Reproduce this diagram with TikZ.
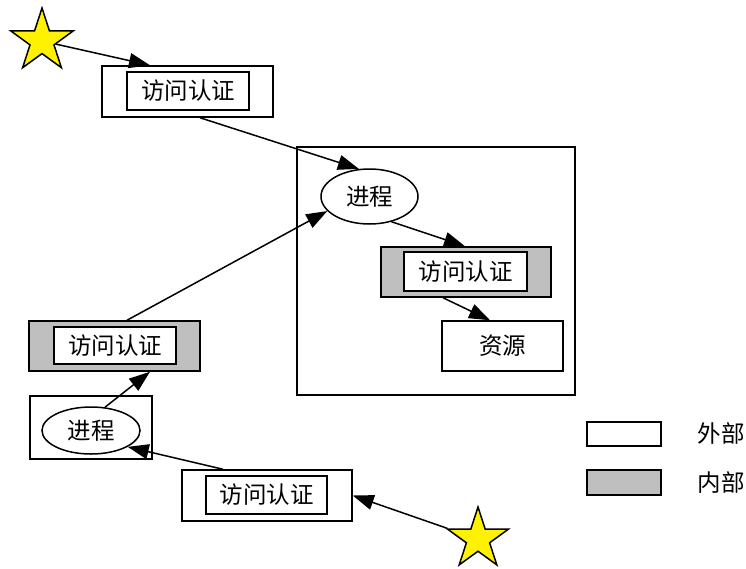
\documentclass[tikz,border=0pt]{standalone}
\usepackage{fontspec}
\setmainfont{Noto Sans CJK SC}
\usetikzlibrary{shapes.geometric,arrows.meta,calc}
\begin{document}
\begin{tikzpicture}[x=1pt,y=-1pt,line width=1.5pt,
  obox/.style 2 args={draw, rectangle, inner sep=0pt, minimum width=#1, minimum height=#2, fill=white},
  gfill/.style={fill=gray!50},
  ibox/.style 2 args={draw, rectangle, fill=white, inner sep=0pt, minimum width=#1, minimum height=#2},
  proc/.style 2 args={draw, ellipse, inner sep=0pt, minimum width=#1, minimum height=#2, fill=white},
  starnode/.style={star, star points=5, star point ratio=2.618, minimum size=66pt, inner sep=0pt, draw, fill=yellow},
  arr/.style={-{Triangle[length=21pt,width=15pt]}},
  every node/.style={font=\fontsize{23.5}{23.5}\selectfont}
]
\useasboundingbox (0,0) rectangle (746,568);
% big container
\node[obox={278}{248}] (big) at (436,271) {};
% top star and box
\node[starnode] (s1) at (42,41) {};
\node[obox={171}{51}] (b1) at (187.5,91.5) {};
\node[ibox={122}{38}] (b1i) at (188,91) {访问认证};
% inside big box
\node[proc={97}{55}] (p1) at (369.5,196.5) {进程};
\node[obox={170}{50}, gfill] (g1) at (466,272) {};
\node[ibox={123}{39}] (g1i) at (465.5,271.5) {访问认证};
\node[obox={121}{50}] (r) at (502.5,346) {资源};
% left side
\node[obox={171}{50}, gfill] (g2) at (114.5,346) {};
\node[ibox={122}{37}] (g2i) at (115,345.5) {访问认证};
\node[obox={122}{63}] (p2box) at (91,427.5) {};
\node[proc={98}{47}] (p2) at (91,430.5) {进程};
% bottom box and star
\node[obox={170}{51}] (b3) at (267,495.5) {};
\node[ibox={121}{38}] (b3i) at (266.5,495) {访问认证};
\node[starnode, minimum size=64pt] (s2) at (478,539) {};
% legend
\node[obox={74}{24}] (l1) at (624,434) {};
\node[obox={74}{25}, gfill] (l2) at (624,482.5) {};
\node (t1) at (721,434) {外部};
\node (t2) at (721,482.5) {内部};
% connectors
\draw[arr] (s1) -- ([xshift=-37.5pt]b1.north);
\draw[arr] ([xshift=12.5pt]b1.south) -- (p1.111);
\draw[arr] (p1.-49) -- ([xshift=-1pt]g1.north);
\draw[arr] ([xshift=-23pt]g1.south) -- ([xshift=-12.5pt]r.north);
\draw[arr] ([xshift=12.5pt]g2.north) -- (p1.-161);
\draw[arr] (p2.59) -- ([xshift=35.5pt]g2.south);
\draw[arr] ([xshift=-44pt]b3.north) -- (p2.-24);
\draw[arr] (s2) -- (b3.east);
\end{tikzpicture}
\end{document}
